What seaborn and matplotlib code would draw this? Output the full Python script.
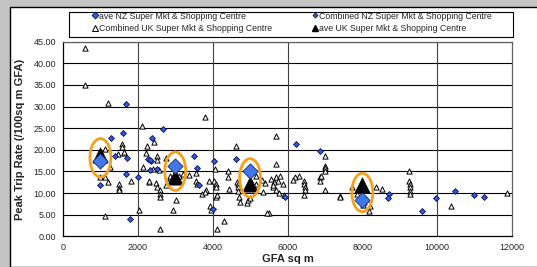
import pandas as pd
import matplotlib.pyplot as plt
import seaborn as sns
from matplotlib.lines import Line2D
from matplotlib.patches import Ellipse, Rectangle

# Combined UK Super Mkt & Shopping Centre (open triangles)
uk_x = [600, 600, 1210, 1130, 1570, 1570, 1480, 1630, 1250, 1000, 1120, 1210, 1500, 1500, 1500,
        1820, 1130, 1630, 2020, 2110, 2240, 2420, 2220, 2510, 2510, 2150, 2400, 2560, 2760, 2290,
        2290, 2490, 2510, 2600, 2600, 2600, 2750, 2870, 2870, 3030, 2940, 2600, 3360, 3550, 3550,
        3570, 3720, 3820, 3900, 3790, 3785, 3200, 3100, 4060, 4040, 4080, 4080, 4080, 3930, 3950,
        4110, 4110, 4290, 4620, 4400, 4410, 4430, 4650, 4680, 4670, 4680, 4700, 4720, 4920, 4950,
        4990, 5160, 5160, 5340, 5500, 5700, 5700, 5450, 5700, 5750, 5650, 5600, 5800, 5870, 5550,
        5620, 5680, 5780, 5900, 5400, 5330, 6300, 6200, 6150, 6450, 6430, 6470, 6480, 6440, 6870,
        6860, 6890, 7010, 7000, 7000, 7010, 7010, 7410, 7410, 7730, 8370, 8530, 9240, 9260, 9270,
        9270, 9270, 9270, 10370, 11860, 8180, 8100, 8050, 8020, 7850, 8200]
uk_y = [43.6, 35.0, 30.9, 20.1, 21.3, 20.7, 19.0, 19.2, 16.0, 13.7, 13.7, 12.5, 12.1, 11.2, 10.6,
        12.9, 4.7, 19.5, 6.0, 25.4, 20.9, 21.7, 19.2, 18.6, 17.6, 16.1, 15.6, 15.3, 18.2, 12.5,
        12.9, 12.3, 11.5, 10.6, 9.8, 9.1, 11.8, 13.4, 14.0, 8.3, 6.0, 1.6, 14.2, 14.6, 12.9,
        12.1, 9.8, 10.8, 12.9, 10.2, 27.6, 14.5, 14.0, 15.6, 12.9, 12.1, 11.5, 9.1, 6.9, 6.0,
        9.5, 1.8, 3.6, 20.9, 13.7, 15.2, 11.0, 12.5, 12.1, 11.4, 10.4, 9.1, 7.9, 7.6, 8.5,
        8.8, 14.0, 12.1, 10.2, 5.3, 23.2, 16.7, 5.3, 13.7, 12.9, 12.5, 11.4, 14.0, 12.2, 13.3,
        11.9, 10.7, 10.0, 9.6, 12.4, 13.0, 14.0, 13.6, 13.0, 12.8, 12.0, 11.5, 10.8, 9.5, 13.7,
        12.9, 14.0, 18.6, 16.3, 15.8, 15.2, 10.8, 9.4, 9.1, 11.4, 11.4, 11.0, 15.2, 12.9, 12.1,
        11.4, 10.4, 9.8, 6.9, 10.0, 5.8, 8.7, 7.9, 7.2, 9.8, 7.0]

# Combined NZ Super Mkt & Shopping Centre (small blue diamonds)
nz_x = [1270, 1610, 1390, 1700, 1690, 990, 1790, 2000, 1680, 2660, 2390, 2260, 2350, 2330, 2500,
        3500, 3570, 3630, 4040, 4000, 4620, 6220, 6860, 5940, 8710, 8690, 9590, 9970, 10480,
        10990, 11260, 2330]
nz_y = [22.7, 23.9, 18.6, 18.2, 14.3, 11.8, 4.1, 13.7, 30.5, 24.7, 22.8, 17.8, 17.3, 15.3, 15.5,
        18.6, 15.7, 11.8, 17.5, 6.2, 17.9, 21.3, 19.8, 9.2, 9.8, 8.9, 5.9, 8.9, 10.4,
        9.6, 9.2, 17.7]

# averages per size band
ave_gfa = [1000, 3000, 5000, 8000]
ave_nz = [17.5, 16.3, 15.0, 8.5]
ave_uk = [18.8, 13.8, 12.0, 11.8]

yticks = [0, 5, 10, 15, 20, 25, 30, 35, 40, 45]
xticks = [0, 2000, 4000, 6000, 8000, 10000, 12000]
vgrid = [2000, 4000, 6000, 10000]

sns.set_style("white")
plt.rcParams['font.family'] = ['Liberation Sans', 'DejaVu Sans']

W, H = 537, 267
fig = plt.figure(figsize=(5.37, 2.67), dpi=100)
fig.patch.set_facecolor('#c4c4c4')
fig.patches.append(Rectangle((10 / W, 0), 1, 1 - 7 / H, transform=fig.transFigure,
                             facecolor='white', edgecolor='black', linewidth=1.0, zorder=-5))
# legend box
fig.patches.append(Rectangle((69 / W, 1 - 36.7 / H), (512.5 - 69) / W, 25 / H,
                             transform=fig.transFigure, facecolor='white',
                             edgecolor='black', linewidth=0.8, zorder=-4))

ax = fig.add_axes([63 / W, 1 - 236.3 / H, (512 - 63) / W, (236.3 - 41.7) / H])
ax.set_facecolor('white')

for y in yticks[1:]:
    ax.axhline(y, color='black', lw=0.8, zorder=1)
for x in vgrid:
    ax.axvline(x, color='#404040', lw=0.8, zorder=1)

df_uk = pd.DataFrame({'GFA': uk_x, 'Rate': uk_y})
df_nz = pd.DataFrame({'GFA': nz_x, 'Rate': nz_y})
df_ave = pd.DataFrame({'GFA': ave_gfa, 'NZ': ave_nz, 'UK': ave_uk})

sns.scatterplot(data=df_uk, x='GFA', y='Rate', ax=ax, marker='^', s=14,
                facecolor='white', edgecolor='black', linewidth=0.7, zorder=3)
sns.scatterplot(data=df_nz, x='GFA', y='Rate', ax=ax, marker='D', s=9,
                color='#2f5be0', edgecolor='#101050', linewidth=0.6, zorder=4)
sns.scatterplot(data=df_ave, x='GFA', y='UK', ax=ax, marker='^', s=120,
                color='black', edgecolor='black', linewidth=0.5, zorder=5)
sns.scatterplot(data=df_ave, x='GFA', y='NZ', ax=ax, marker='D', s=60,
                color='#4177e6', edgecolor='#1a2a80', linewidth=0.6, zorder=6)

# orange rings around each pair of averages
for gx, a, b in zip(ave_gfa, ave_nz, ave_uk):
    ax.add_patch(Ellipse((gx, (a + b) / 2), 560, 8.9, fill=False,
                         edgecolor='#f5a01a', lw=2.0, zorder=7))

ax.set_xlim(0, 12000)
ax.set_ylim(0, 45)
ax.set_xticks(xticks)
ax.set_yticks(yticks)
ax.set_xticklabels([str(t) for t in xticks], fontsize=6.5)
ax.set_yticklabels([f"{t:.2f}" for t in yticks], fontsize=6.5)
ax.tick_params(axis='both', direction='out', length=3, width=0.7, color='black', pad=2)
ax.set_xlabel('GFA sq m', fontsize=8, fontweight='bold', labelpad=1)
ax.set_ylabel('Peak Trip Rate (/100sq m GFA)', fontsize=8, fontweight='bold', labelpad=6)
for side in ['left', 'bottom']:
    ax.spines[side].set_color('black')
    ax.spines[side].set_linewidth(0.9)
for side in ['top', 'right']:
    ax.spines[side].set_color('#606060')
    ax.spines[side].set_linewidth(0.9)

h_avenz = Line2D([], [], ls='none', marker='D', ms=3.5, mfc='#2f5be0', mec='#101050', mew=0.6)
h_combuk = Line2D([], [], ls='none', marker='^', ms=4, mfc='white', mec='black', mew=0.7)
h_combnz = Line2D([], [], ls='none', marker='D', ms=2.5, mfc='#2f5be0', mec='#101050', mew=0.6)
h_aveuk = Line2D([], [], ls='none', marker='^', ms=5, mfc='black', mec='black')

leg_kw = dict(loc='center left', fontsize=6.3, frameon=False, borderpad=0, borderaxespad=0,
              handlelength=0.8, handletextpad=0.15, labelspacing=0.45)
fig.legend([h_avenz, h_combuk],
           ['ave NZ Super Mkt & Shopping Centre', 'Combined UK Super Mkt & Shopping Centre'],
           bbox_to_anchor=(91 / W, 1 - 22.5 / H), **leg_kw)
fig.legend([h_combnz, h_aveuk],
           ['Combined NZ Super Mkt & Shopping Centre', 'ave UK Super Mkt & Shopping Centre'],
           bbox_to_anchor=(311 / W, 1 - 22.5 / H), **leg_kw)

fig.savefig('out.png', dpi=100, facecolor=fig.get_facecolor())
